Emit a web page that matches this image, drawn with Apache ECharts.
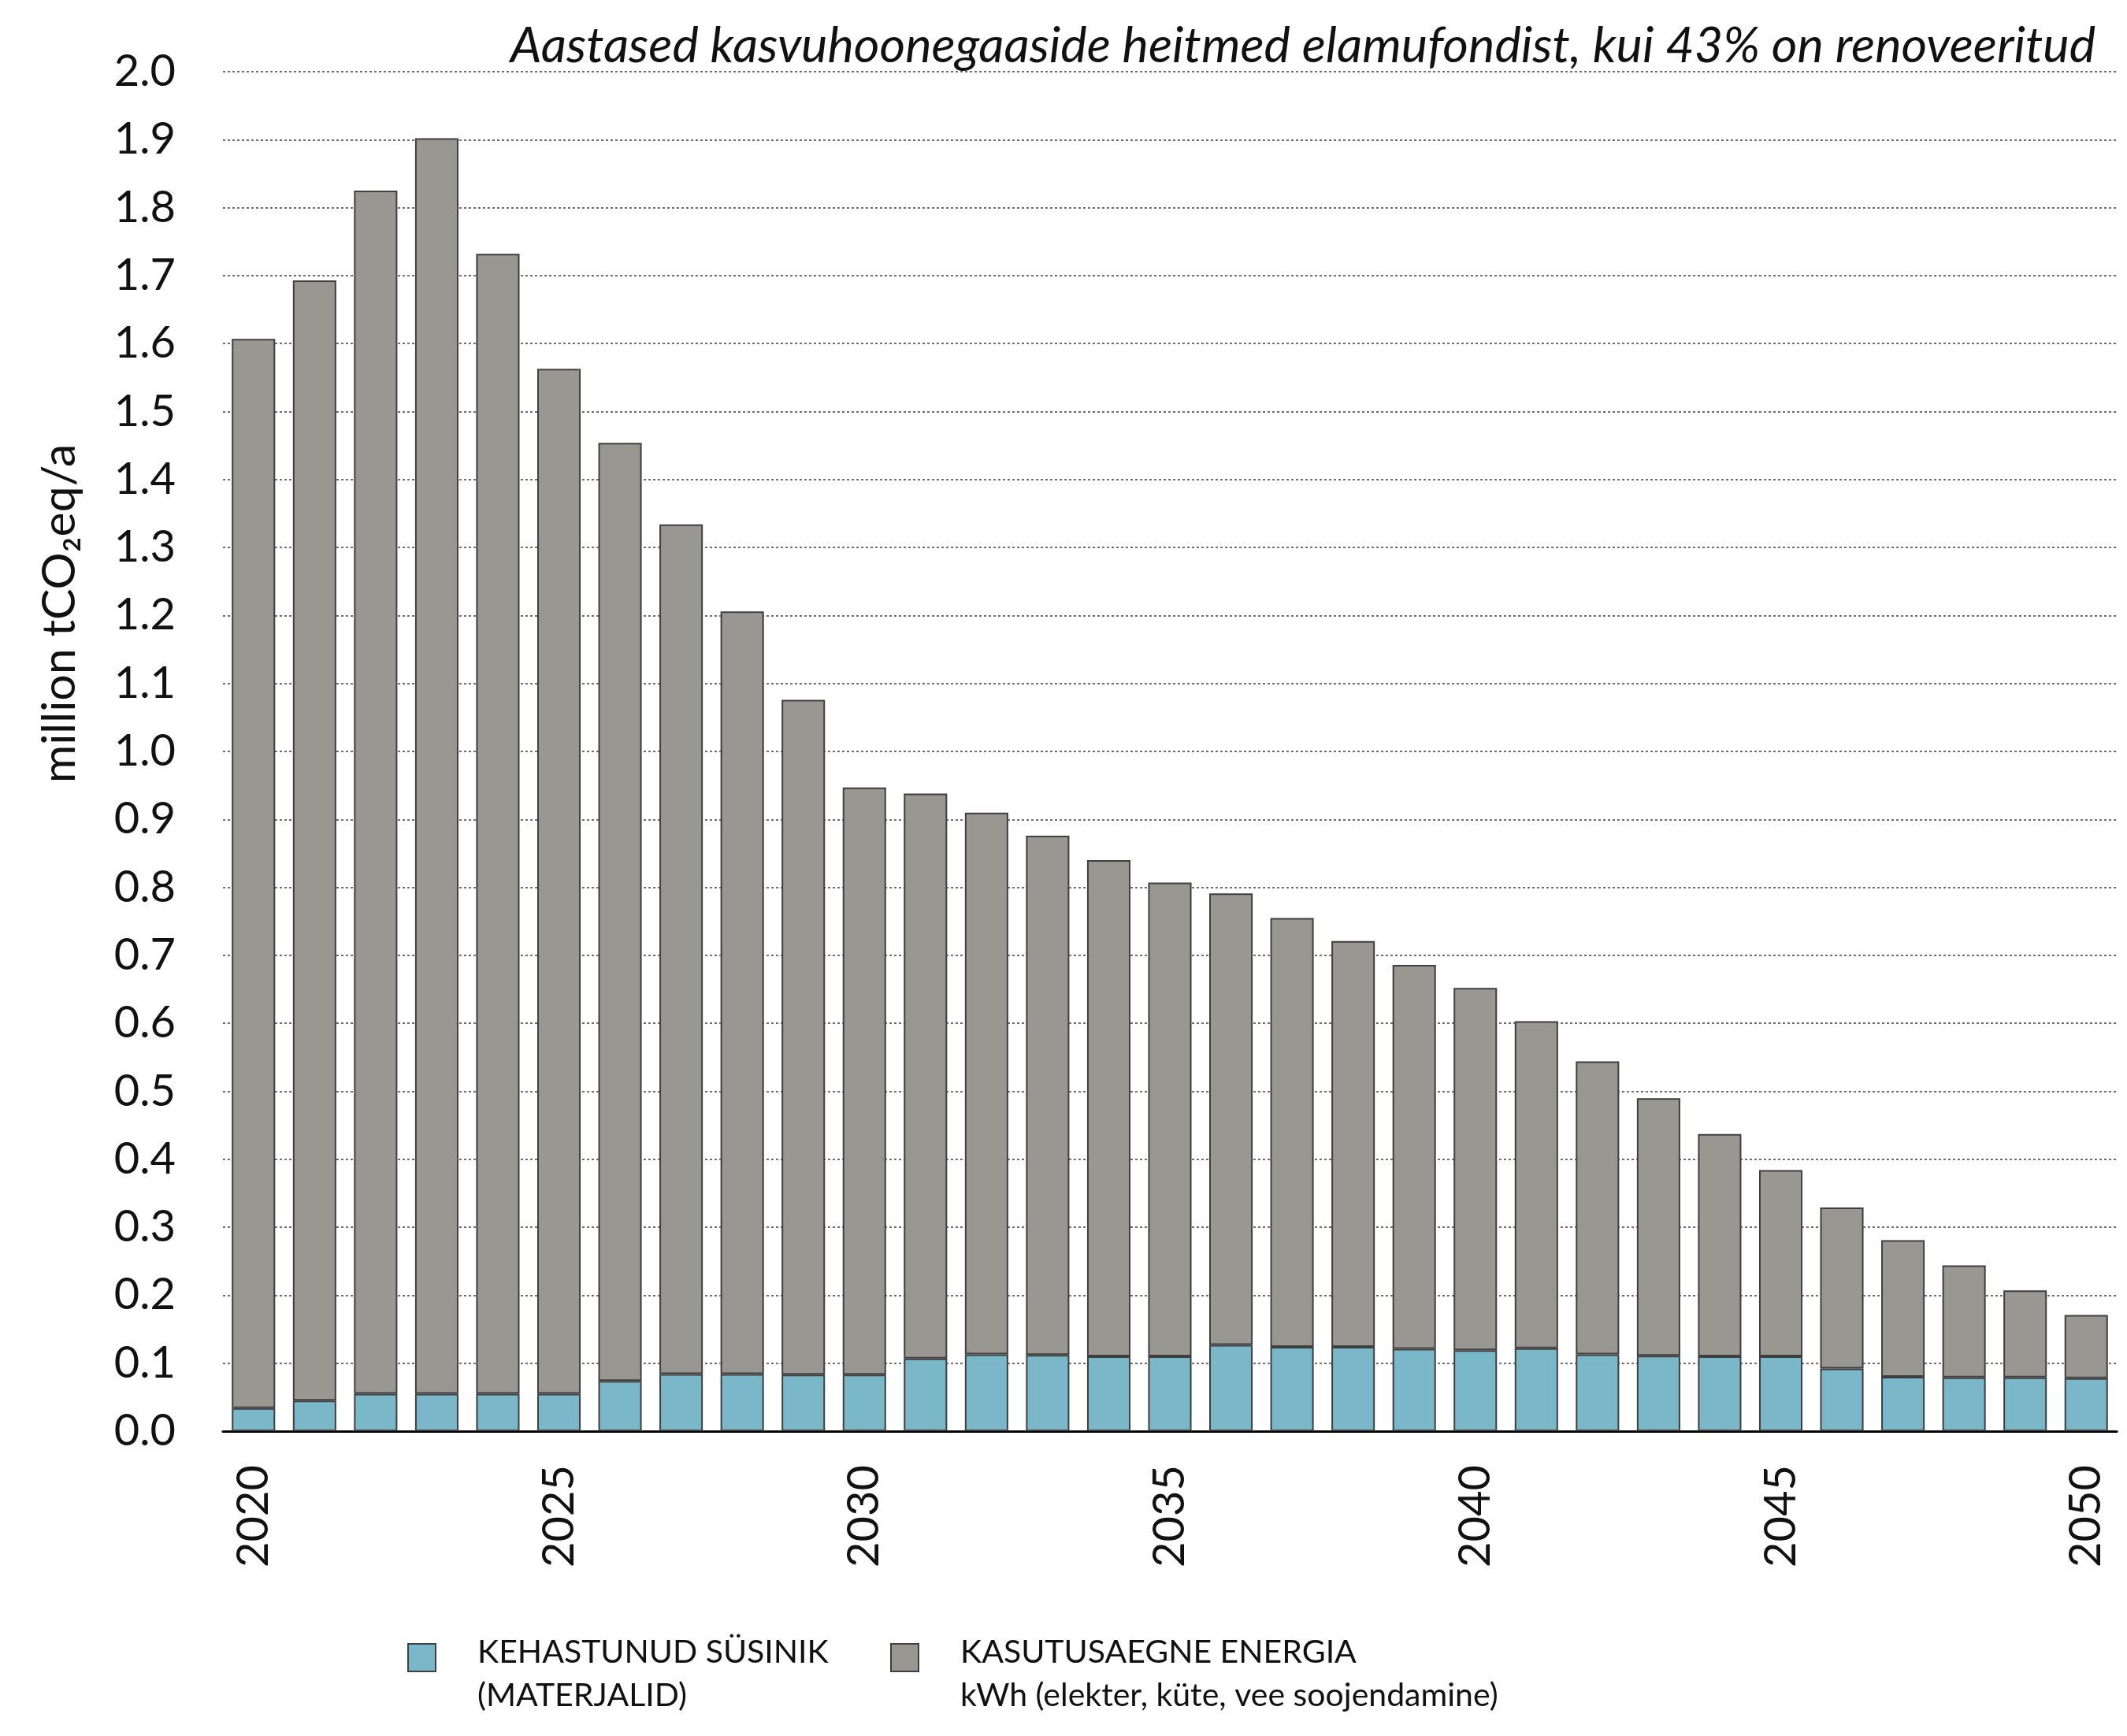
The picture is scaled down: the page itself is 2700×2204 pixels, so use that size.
<!DOCTYPE html>
<html>
<head>
<meta charset="utf-8">
<script src="https://cdn.jsdelivr.net/npm/echarts@6/dist/echarts.min.js"></script>
<style>
html,body{margin:0;padding:0;background:#fff;}
#chart{width:2700px;height:2204px;}
</style>
</head>
<body>
<div id="chart"></div>
<script>
const years = ['2020','2021','2022','2023','2024','2025','2026','2027','2028','2029','2030',
  '2031','2032','2033','2034','2035','2036','2037','2038','2039','2040',
  '2041','2042','2043','2044','2045','2046','2047','2048','2049','2050'];
// Embodied carbon (materials), million tCO2eq/a
const embodied = [0.034,0.045,0.055,0.055,0.055,0.055,0.074,0.084,0.084,0.083,0.083,
  0.107,0.113,0.112,0.110,0.110,0.127,0.124,0.124,0.121,0.119,
  0.122,0.113,0.111,0.110,0.110,0.092,0.080,0.079,0.079,0.078];
// Operational energy, million tCO2eq/a
const operational = [1.573,1.648,1.770,1.847,1.677,1.508,1.380,1.250,1.122,0.993,0.864,
  0.831,0.797,0.764,0.730,0.697,0.664,0.631,0.597,0.565,0.533,
  0.481,0.431,0.379,0.327,0.274,0.237,0.201,0.165,0.128,0.093];
const titleText = 'Aastased kasvuhoonegaaside heitmed elamufondist, kui 43% on renoveeritud';
const yAxisTitle = 'million tCO\u2082eq/a';
const nameEmbodied = 'KEHASTUNUD SÜSINIK\n(MATERJALID)';
const nameOperational = 'KASUTUSAEGNE ENERGIA\nkWh (elekter, küte, vee soojendamine)';

const FONT = 'Lato, "Open Sans", sans-serif';
const legendIcon = 'path://M0,17 L35,17 L35,52 L0,52 Z M83,0 L83,0 M0,110 L0,110';

const chart = echarts.init(document.getElementById('chart'), null, {renderer:'canvas'});
chart.setOption({
  animation: false,
  backgroundColor: '#ffffff',
  textStyle: {fontFamily: FONT},
  title: {
    text: titleText,
    right: 40, top: 27, padding: 0,
    textStyle: {fontFamily: FONT, fontStyle: 'italic', fontWeight: 'normal', fontSize: 63, color: '#111'}
  },
  graphic: [{
    type: 'text',
    x: 76, y: 779,
    rotation: Math.PI / 2,
    style: {
      text: yAxisTitle,
      font: '59px ' + FONT,
      fill: '#111',
      align: 'center',
      verticalAlign: 'middle'
    }
  }],
  legend: [{
    data: [nameEmbodied],
    left: 517, top: 2069, padding: 0,
    icon: legendIcon, itemWidth: 83, itemHeight: 110,
    selectedMode: false,
    textStyle: {fontFamily: FONT, fontSize: 41, lineHeight: 55, color: '#111'}
  }, {
    data: [nameOperational],
    left: 1130, top: 2069, padding: 0,
    icon: legendIcon, itemWidth: 83, itemHeight: 110,
    selectedMode: false,
    textStyle: {fontFamily: FONT, fontSize: 41, lineHeight: 55, color: '#111'}
  }],
  grid: {left: 283, right: 13, top: 91, bottom: 387, containLabel: false},
  xAxis: {
    type: 'category',
    data: years,
    boundaryGap: true,
    axisLine: {show: true, lineStyle: {color: '#000', width: 3}},
    axisTick: {show: false},
    axisLabel: {interval: 4, rotate: 90, margin: 43, fontSize: 56, color: '#111', fontFamily: FONT},
    splitLine: {show: false}
  },
  yAxis: {
    type: 'value',
    min: 0, max: 2.0, interval: 0.1,
    axisLine: {show: false},
    axisTick: {show: false},
    axisLabel: {margin: 60, fontSize: 56, color: '#111', fontFamily: FONT,
      formatter: v => v.toFixed(1)},
    splitLine: {show: true, lineStyle: {color: '#6e6e6e', width: 2, type: [3, 3]}}
  },
  series: [{
    name: nameEmbodied,
    type: 'bar',
    stack: 'total',
    data: embodied,
    barCategoryGap: '29%',
    itemStyle: {color: '#7ab7c8', borderColor: '#3f3f3f', borderWidth: 2}
  }, {
    name: nameOperational,
    type: 'bar',
    stack: 'total',
    data: operational,
    barCategoryGap: '29%',
    itemStyle: {color: '#989792', borderColor: '#3f3f3f', borderWidth: 2}
  }]
});
</script>
</body>
</html>
